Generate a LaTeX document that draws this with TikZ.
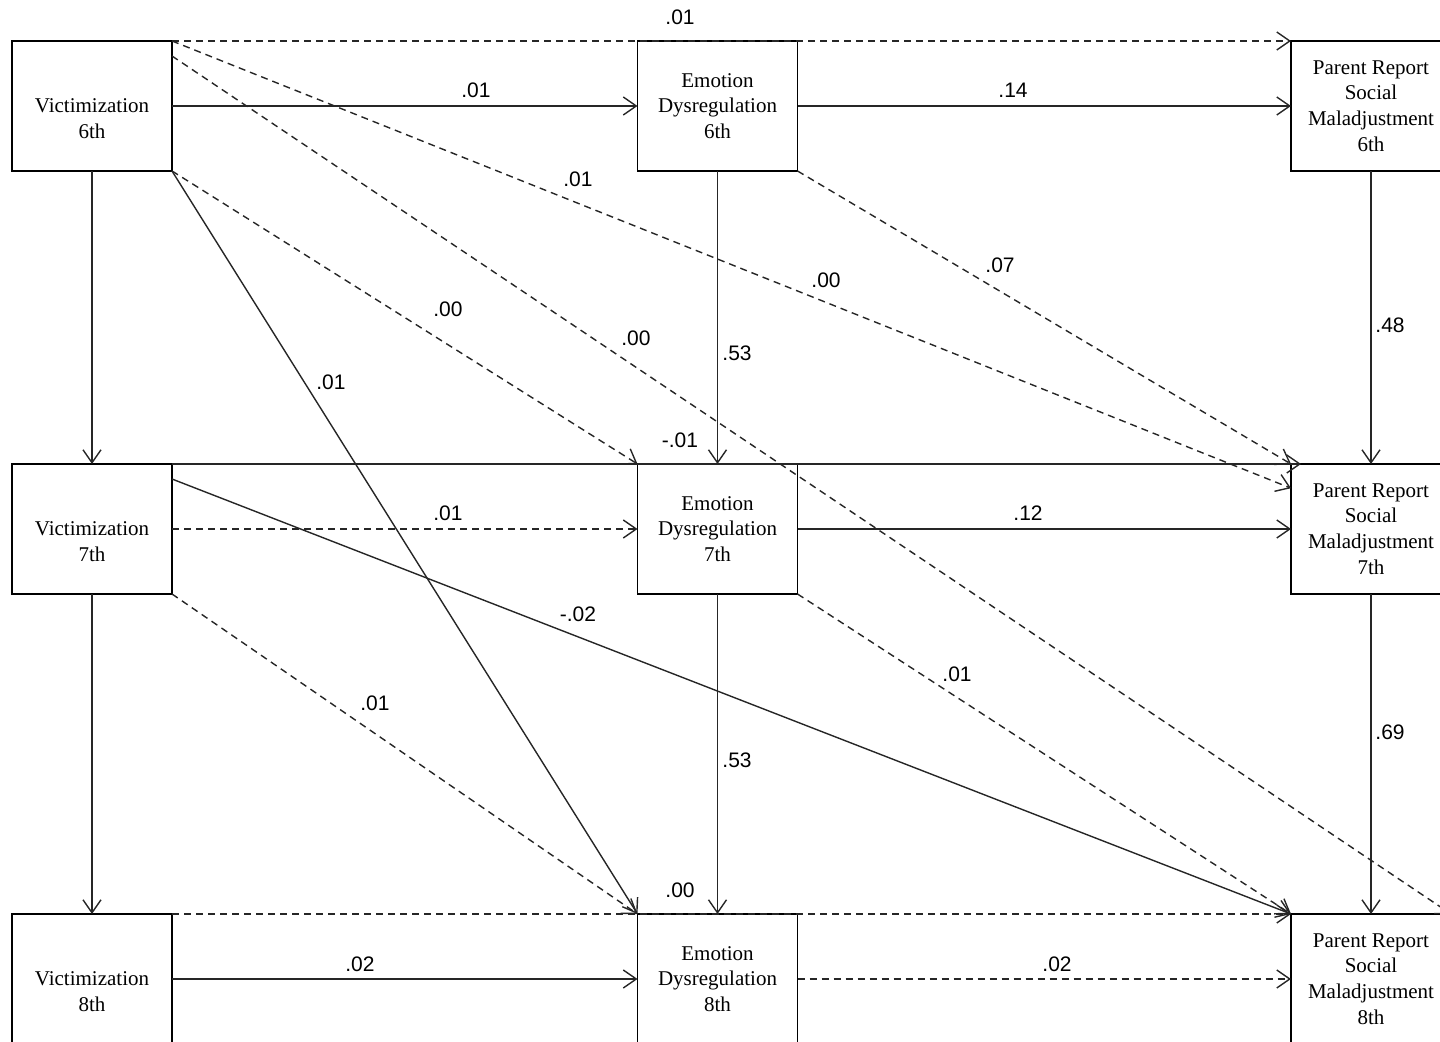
\documentclass[tikz,border=0pt]{standalone}
\usepackage{fontspec}
\setmainfont{Liberation Serif}
\newfontfamily\coeffont{Liberation Sans}
\usetikzlibrary{arrows.meta}

\begin{document}
\begin{tikzpicture}[x=0.5pt,y=-0.5pt,
  var/.style={draw=black,line width=0.7pt,minimum width=80pt,minimum height=65pt,
     inner sep=1pt,outer sep=0pt,align=center,font=\fontsize{10.5}{12.8}\selectfont},
  coef/.style={font=\coeffont\fontsize{10.5}{12}\selectfont,inner sep=1pt},
  sig/.style={draw=black!85,line width=0.7pt,-{Straight Barb[length=6.5pt,width=9pt]}},
  nsig/.style={sig,dash pattern=on 3.5pt off 2.5pt}]
\clip (0,0) rectangle (1440,1042);
% boxes
\node[var] (v6) at (92,106) {\vphantom{Dy}\\Victimization\\6th};
\node[var] (ed6) at (717.5,106) {Emotion\\Dysregulation\\6th};
\node[var] (pr6) at (1371,106) {Parent Report\\Social\\Maladjustment\\6th};
\node[var] (v7) at (92,529) {\vphantom{Dy}\\Victimization\\7th};
\node[var] (ed7) at (717.5,529) {Emotion\\Dysregulation\\7th};
\node[var] (pr7) at (1371,529) {Parent Report\\Social\\Maladjustment\\7th};
\node[var] (v8) at (92,979) {\vphantom{Dy}\\Victimization\\8th};
\node[var] (ed8) at (717.5,979) {Emotion\\Dysregulation\\8th};
\node[var] (pr8) at (1371,979) {Parent Report\\Social\\Maladjustment\\8th};
% paths from 6th grade
\draw[nsig] (v6.north east)--(pr6.north west);
\draw[sig] (v6.east)--(ed6.west);\draw[sig] (ed6.east)--(pr6.west);
\draw[nsig] (v6.north east)--(pr7.153);
\draw[nsig] (v6.32)--(pr8.north east);
\draw[nsig] (ed6.south east)--(pr7.north west);
\draw[nsig] (v6.south east)--(ed7.north west);
\draw[sig] (v6.south east)--(ed8.north west);
\draw[sig] (v6)--(v7);\draw[sig] (ed6)--(ed7);\draw[sig] (pr6)--(pr7);
% paths from 7th grade
\draw[sig,shorten >=-5pt] (v7.north east)--(pr7.north west);
\draw[nsig] (v7.east)--(ed7.west);\draw[sig] (ed7.east)--(pr7.west);
\draw[sig] (v7.32)--(pr8.north west);
\draw[nsig] (v7.south east)--(ed8.north west);
\draw[nsig] (ed7.south east)--(pr8.north west);
\draw[sig] (v7)--(v8);\draw[sig] (ed7)--(ed8);\draw[sig] (pr7)--(pr8);
% paths at 8th grade
\draw[nsig] (v8.north east)--(pr8.north west);
\draw[sig] (v8.east)--(ed8.west);\draw[nsig] (ed8.east)--(pr8.west);
% coefficients
\node[coef] (k1) at (680,17) {.01};
\node[coef] (k2) at (476,90) {.01};
\node[coef] (k3) at (1013,90) {.14};
\node[coef] (k4) at (578,179) {.01};
\node[coef] (k5) at (1000,265) {.07};
\node[coef] (k6) at (826,280) {.00};
\node[coef] (k7) at (448,309) {.00};
\node[coef] (k8) at (636,338) {.00};
\node[coef] (k9) at (331,382) {.01};
\node[coef] (k10) at (737,353) {.53};
\node[coef] (k11) at (1390,325) {.48};
\node[coef] (k12) at (680,440) {-.01};
\node[coef] (k13) at (448,513) {.01};
\node[coef] (k14) at (1028,513) {.12};
\node[coef] (k15) at (578,614) {-.02};
\node[coef] (k16) at (957,674) {.01};
\node[coef] (k17) at (375,703) {.01};
\node[coef] (k18) at (1390,732) {.69};
\node[coef] (k19) at (737,760) {.53};
\node[coef] (k20) at (680,890) {.00};
\node[coef] (k21) at (360,964) {.02};
\node[coef] (k22) at (1057,964) {.02};
\end{tikzpicture}
\end{document}
